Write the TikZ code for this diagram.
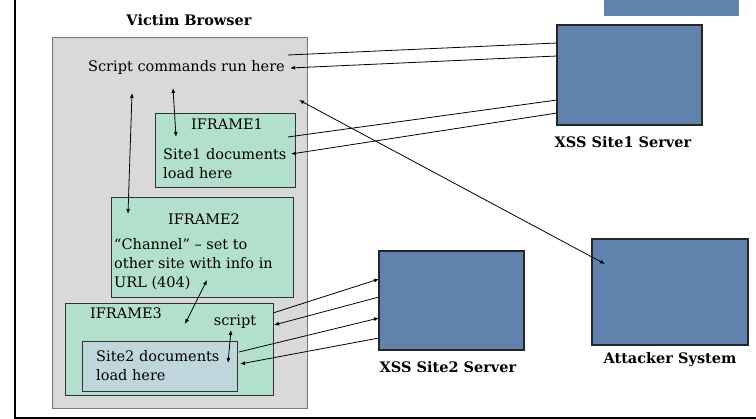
\documentclass[tikz,border=0pt]{standalone}
\usepackage{fontspec}
\setmainfont{DejaVu Serif}
\usetikzlibrary{arrows.meta}
\definecolor{panelgray}{RGB}{217,217,217}
\definecolor{framegray}{RGB}{120,120,120}
\definecolor{mint}{RGB}{179,224,205}
\definecolor{paleblue}{RGB}{191,215,220}
\definecolor{serverblue}{RGB}{98,130,174}
\definecolor{edgedark}{RGB}{50,50,50}
\tikzset{
  area/.style={draw=framegray, fill=panelgray, line width=0.8pt, inner sep=0pt, outer sep=0pt, anchor=north west},
  frame/.style={draw=edgedark, fill=mint, line width=0.9pt, inner sep=0pt, outer sep=0pt, anchor=north west},
  docbox/.style={draw=edgedark, fill=paleblue, line width=0.9pt, inner sep=0pt, outer sep=0pt, anchor=north west},
  server/.style={draw=black!85, fill=serverblue, line width=1.1pt, inner sep=0pt, outer sep=0pt, anchor=north west},
  txt/.style={font=\fontsize{14.5}{19}\selectfont, inner sep=0pt},
  caption/.style={font=\fontsize{14.5}{16}\selectfont\bfseries, inner sep=0pt},
  link/.style={line width=0.8pt, draw=black},
  one/.style={link, -{Latex[length=5pt,width=4pt]}},
  both/.style={link, {Latex[length=5pt,width=4pt]}-{Latex[length=5pt,width=4pt]}}
}
\begin{document}
\begin{tikzpicture}[x=1pt, y=-1pt]
\useasboundingbox (0,0) rectangle (756,419);
% page frame
\draw[line width=2pt] (15,-2) -- (15,418) -- (758,418);
% partly hidden box at the top edge
\fill[serverblue] (604,-5) rectangle (739,16);

% browser and its frames
\node[caption] (vbl) at (189,20) {Victim Browser};
\node[area, minimum width=255pt, minimum height=371pt] (browser) at (52,37) {};
\node[txt] (cmd) at (186.5,68) {Script commands run here};

\node[frame, minimum width=140pt, minimum height=74pt] (if1) at (155,113) {};
\node[txt] (if1t) at (227,124) {IFRAME1};
\node[txt, anchor=west, align=left] (if1d) at (163,164) {Site1 documents\\load here};

\node[frame, minimum width=182pt, minimum height=100pt] (if2) at (111,197) {};
\node[txt] (if2t) at (204,219) {IFRAME2};
\node[txt, anchor=west, align=left] (if2d) at (114,264) {“Channel” – set to\\other site with info in\\URL (404)};

\node[frame, minimum width=208pt, minimum height=92pt] (if3) at (65,303) {};
\node[txt] (if3t) at (126,313) {IFRAME3};
\node[txt] (scr) at (235,322) {script};
\node[docbox, minimum width=155pt, minimum height=50pt] (s2doc) at (82,341) {};
\node[txt, anchor=west, align=left] (s2d) at (96,365.5) {Site2 documents\\load here};

% servers
\node[server, minimum width=145pt, minimum height=100pt] (srv1) at (557,25) {};
\node[caption] (srv1l) at (623,142) {XSS Site1 Server};
\node[server, minimum width=145pt, minimum height=99pt] (srv2) at (379,251) {};
\node[caption] (srv2l) at (448,367) {XSS Site2 Server};
\node[server, minimum width=156pt, minimum height=106pt] (att) at (592,239) {};
\node[caption] (attl) at (670,360) {Attacker System};

% connector ends
\coordinate (b1) at (288,55);   \coordinate (s1a) at (557,43);
\coordinate (b2) at (290,68);   \coordinate (s1b) at (557,56);
\coordinate (f1) at (288,137);  \coordinate (s1c) at (557,100);
\coordinate (f2) at (291,154);  \coordinate (s1d) at (557,113);
\coordinate (b3) at (299,100);  \coordinate (a1) at (605,264);
\coordinate (u1) at (173,88);   \coordinate (d1) at (176,137);
\coordinate (u2) at (132,93);   \coordinate (d2) at (128,214);
\coordinate (u3) at (207,280);  \coordinate (d3) at (185,324);
\coordinate (u4) at (231,330);  \coordinate (d4) at (228,363);
\coordinate (g1) at (273,313);  \coordinate (t1) at (379,279);
\coordinate (g2) at (274,325);  \coordinate (t2) at (379,297);
\coordinate (h1) at (239,352);  \coordinate (t3) at (379,318);
\coordinate (h2) at (240,364);  \coordinate (t4) at (379,338);

% site 1 traffic
\draw[link] (b1) -- (s1a);
\draw[one] (s1b) -- (b2);
\draw[link] (f1) -- (s1c);
\draw[one] (s1d) -- (f2);
% attacker channel
\draw[both] (b3) -- (a1);
% inside the browser
\draw[both] (u1) -- (d1);
\draw[both] (u2) -- (d2);
\draw[both] (u3) -- (d3);
\draw[both] (u4) -- (d4);
% site 2 traffic
\draw[one] (g1) -- (t1);
\draw[one] (t2) -- (g2);
\draw[one] (h1) -- (t3);
\draw[one] (t4) -- (h2);
\end{tikzpicture}
\end{document}
